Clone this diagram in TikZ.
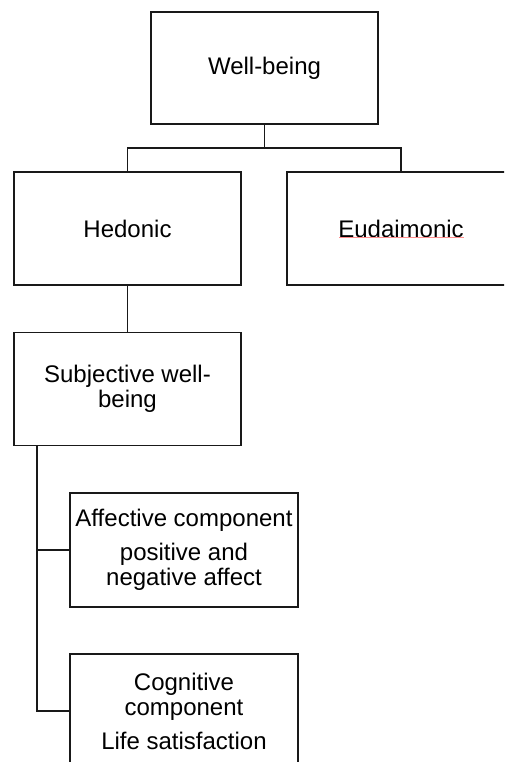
\documentclass[tikz,border=0pt]{standalone}
\usepackage{fontspec}
\setmainfont{Liberation Sans}
\begin{document}
\begin{tikzpicture}[x=1pt,y=-1pt,
  box/.style={draw=black!90, line width=1.3pt, rectangle, fill=white,
    align=center, inner sep=2pt,
    font=\fontsize{24}{25}\selectfont},
  link/.style={draw=black!90, line width=1.3pt}]
\useasboundingbox (0,0) rectangle (504,762);
\clip (0,0) rectangle (504,762);

% hierarchy boxes
\node[box, minimum width=227pt, minimum height=112pt] (wb) at (264.5,68) {Well-being};
\node[box, minimum width=227pt, minimum height=113pt] (hed) at (127.5,228.5) {Hedonic};
\node[box, minimum width=228pt, minimum height=113pt] (eud) at (401,228.5) {Eudaimonic};
\node[box, minimum width=227pt, minimum height=113pt] (swb) at (127.5,389) {Subjective well-\\being};
\node[box, minimum width=228pt, minimum height=114pt] (aff) at (184,550)
  {Affective component\\[9pt]positive and\\negative affect};
\node[box, minimum width=228pt, minimum height=114pt] (cog) at (184,711)
  {Cognitive\\component\\[9pt]Life satisfaction};

% spell-check squiggle under the word
\draw[red!45, line width=0.5pt] (339,237.5) -- (464,237.5);

% connectors
\coordinate (fork) at (264.5,148);
\coordinate (trunk) at (37,0);
\draw[link] (wb.south) -- (fork);
\draw[link] (hed.north) |- (fork) -| (eud.north);
\draw[link] (hed.south) -- (swb.north);
\draw[link] (swb.south -| trunk) |- (cog.west);
\draw[link] (trunk |- aff.west) -- (aff.west);
\end{tikzpicture}
\end{document}
